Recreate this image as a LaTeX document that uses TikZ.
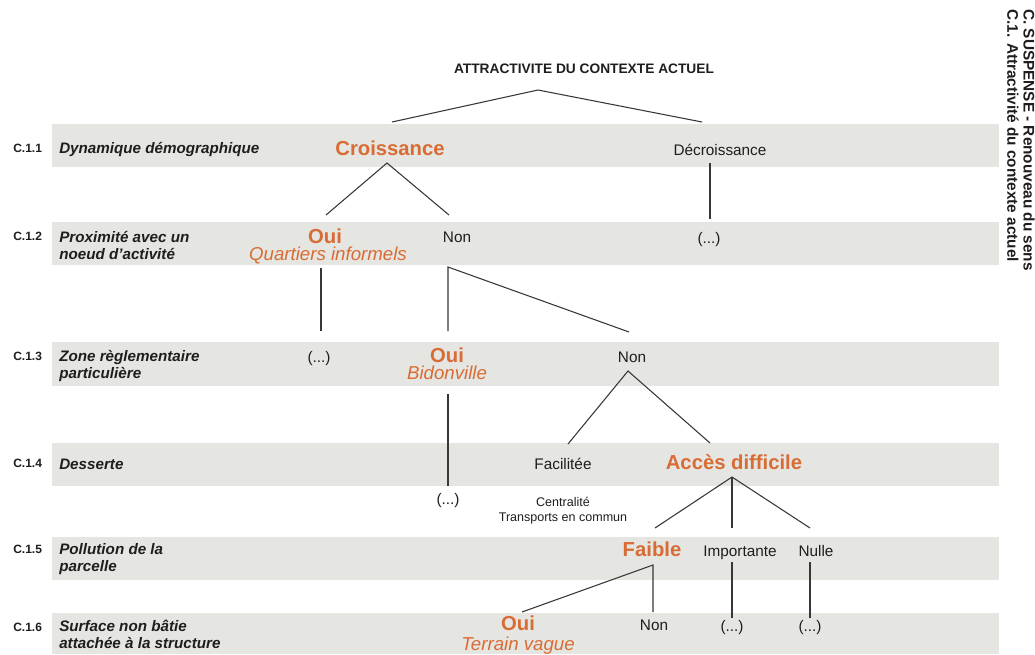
\documentclass[tikz,border=0pt]{standalone}
\usepackage{fontspec}
\setmainfont{Liberation Sans}
\definecolor{band}{RGB}{229,229,226}
\definecolor{orng}{RGB}{217,108,52}
\definecolor{ink}{RGB}{30,30,30}
\definecolor{edge}{RGB}{55,55,55}
\begin{document}
\begin{tikzpicture}[x=0.75pt,y=-0.75pt,
 every node/.style={inner sep=0pt,text=ink},
 ttl/.style={font=\fontsize{10.3}{12}\selectfont\bfseries, text height=7.4pt, text depth=0pt},
 bigor/.style={font=\fontsize{15.2}{17}\selectfont\bfseries, text=orng, text height=10.9pt, text depth=0pt},
 bigit/.style={font=\fontsize{14}{16}\selectfont\itshape, text=orng, text height=10pt, text depth=0pt},
 regtxt/.style={font=\fontsize{11.5}{13}\selectfont, text height=8.2pt, text depth=0pt},
 smltxt/.style={font=\fontsize{9.4}{11}\selectfont, text height=6.7pt, text depth=0pt},
 rowcode/.style={font=\fontsize{9}{10}\selectfont\bfseries, anchor=west, text height=6.5pt, text depth=0pt},
 rowlbl/.style={font=\fontsize{11.4}{12.75}\selectfont\bfseries\itshape, anchor=west, align=left},
 sidetxt/.style={font=\fontsize{11.5}{12.2}\selectfont\bfseries, align=left, rotate=-90, anchor=north west},
 conn/.style={draw=edge, line width=0.8pt},
 bandfill/.style={fill=band}]
\useasboundingbox (0,0) rectangle (1035,654);
\fill[white] (0,0) rectangle (1035,654);
% bands
\fill[bandfill] (52,124) rectangle (999,167);
\fill[bandfill] (52,222) rectangle (999,265);
\fill[bandfill] (52,342) rectangle (999,386);
\fill[bandfill] (52,443) rectangle (999,486);
\fill[bandfill] (52,537) rectangle (999,580);
\fill[bandfill] (52,613) rectangle (999,654);
% row codes and labels
\node[rowcode] (c1) at (13,148) {C.1.1};
\node[rowcode] (c2) at (13,236) {C.1.2};
\node[rowcode] (c3) at (13,356) {C.1.3};
\node[rowcode] (c4) at (13,463) {C.1.4};
\node[rowcode] (c5) at (13,549) {C.1.5};
\node[rowcode] (c6) at (13,627) {C.1.6};
\node[rowlbl] (r1) at (59,149) {Dynamique démographique};
\node[rowlbl] (r2) at (59,245.5) {Proximité avec un\\noeud d’activité};
\node[rowlbl] (r3) at (59,365.5) {Zone règlementaire\\particulière};
\node[rowlbl] (r4) at (59,464) {Desserte};
\node[rowlbl] (r5) at (59,559) {Pollution de la\\parcelle};
\node[rowlbl] (r6) at (59,634.5) {Surface non bâtie\\attachée à la structure};
% side title
\node[sidetxt] (side) at (1035,9) {C. SUSPENSE - Renouveau du sens\\C.1. Attractivité du contexte actuel};
% tree nodes
\node[ttl] (T) at (584,69) {ATTRACTIVITE DU CONTEXTE ACTUEL};
\node[bigor] (cro) at (390,148) {Croissance};
\node[regtxt] (dec) at (720,150) {Décroissance};
\node[bigor] (oui1) at (325,236) {Oui};
\node[bigit] (qi) at (328,254) {Quartiers informels};
\node[regtxt] (non1) at (457,237) {Non};
\node[regtxt] (dots1) at (709,238) {(...)};
\node[regtxt] (dots2) at (319,357) {(...)};
\node[bigor] (oui2) at (447,355) {Oui};
\node[bigit] (bid) at (447,373) {Bidonville};
\node[regtxt] (non2) at (632,357) {Non};
\node[regtxt] (fac) at (563,464) {Facilitée};
\node[bigor] (acc) at (734,462) {Accès difficile};
\node[regtxt] (dots3) at (448,499) {(...)};
\node[smltxt] (cent) at (563,502) {Centralité};
\node[smltxt] (trans) at (563,517) {Transports en commun};
\node[bigor] (fai) at (652,549) {Faible};
\node[regtxt] (imp) at (740,551) {Importante};
\node[regtxt] (nul) at (816,551) {Nulle};
\node[bigor] (oui3) at (518,623) {Oui};
\node[bigit] (tv) at (518,644) {Terrain vague};
\node[regtxt] (non3) at (654,625) {Non};
\node[regtxt] (dots4) at (732,626) {(...)};
\node[regtxt] (dots5) at (810,626) {(...)};
% connectors
\draw[conn] ([shift={(2,-26)}]cro.center) -- ([shift={(-46,21)}]T.center) -- ([shift={(-18,-28)}]dec.center);
\draw[conn] ([shift={(1,-21)}]oui1.center) -- ([shift={(-3,15)}]cro.center) -- ([shift={(-8,-22)}]non1.center);
\draw[conn] ([shift={(-10,13)}]dec.center) -- ([shift={(1,-19)}]dots1.center);
\draw[conn] ([shift={(-7,14)}]qi.center) -- ([shift={(2,-26)}]dots2.center);
\draw[conn] ([shift={(1,-24)}]oui2.center) -- ([shift={(-9,30)}]non1.center) -- ([shift={(-3,-25)}]non2.center);
\draw[conn] ([shift={(1,21)}]bid.center) -- ([shift={(0,-13)}]dots3.center);
\draw[conn] ([shift={(5,-20)}]fac.center) -- ([shift={(-4,14)}]non2.center) -- ([shift={(-24,-19)}]acc.center);
\draw[conn] ([shift={(3,-21)}]fai.center) -- ([shift={(-2,15)}]acc.center) -- ([shift={(-6,-23)}]nul.center);
\draw[conn] ([shift={(-2,15)}]acc.center) -- ([shift={(-8,-23)}]imp.center);
\draw[conn] ([shift={(4,-11)}]oui3.center) -- ([shift={(1,16)}]fai.center) -- ([shift={(-1,-13)}]non3.center);
\draw[conn] ([shift={(-8,11)}]imp.center) -- ([shift={(0,-8)}]dots4.center);
\draw[conn] ([shift={(-6,11)}]nul.center) -- ([shift={(0,-8)}]dots5.center);
\end{tikzpicture}
\end{document}
